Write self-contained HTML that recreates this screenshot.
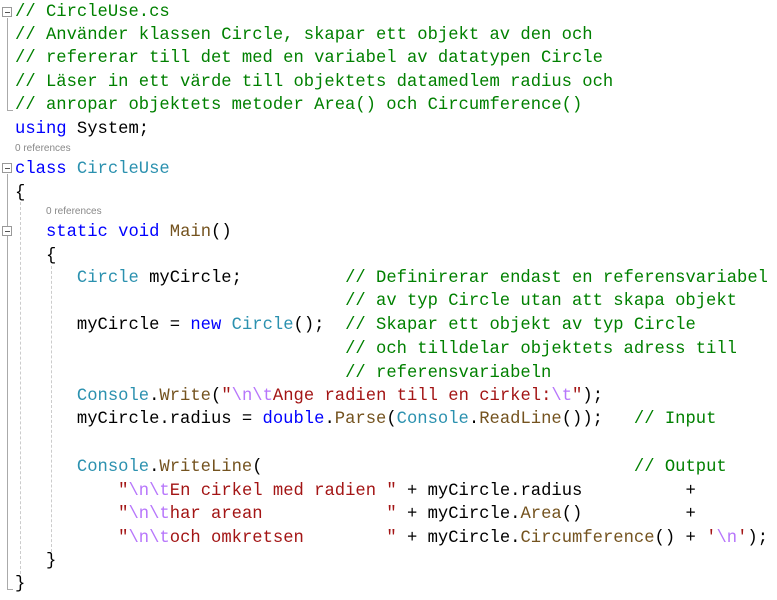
<!DOCTYPE html>
<html><head><meta charset="utf-8"><style>
html,body{margin:0;padding:0;background:#fff;width:777px;height:600px;overflow:hidden;position:relative}
.l{position:absolute;left:15px;height:23px;line-height:23px;font-family:"Liberation Mono",monospace;font-size:17.2px;white-space:pre;color:#000}
.r{position:absolute;font-family:"Liberation Sans",sans-serif;font-size:10px;color:#888;line-height:12px}
.c{color:#008000}.k{color:#0000ff}.t{color:#2b91af}.s{color:#a31515}.e{color:#b776fb}.m{color:#74531f}
.box{position:absolute;left:2px;width:8px;height:8px;border:1px solid #999;background:#fff}
.box:after{content:"";position:absolute;left:2px;top:4px;width:5px;height:1px;background:#555}
.vl{position:absolute;left:7px;width:1px;background:#aaa}
.dg{position:absolute;width:0;border-left:1px dashed #ccc}
</style></head><body>
<div class="vl" style="top:18px;height:93px"></div>
<div class="vl" style="top:110px;height:1px;width:6px"></div>
<div class="vl" style="top:174px;height:416px"></div>
<div class="vl" style="top:589px;height:1px;width:6px"></div>
<div class="dg" style="left:20px;top:202px;height:372px"></div>
<div class="dg" style="left:51px;top:266px;height:286px"></div>
<div class="box" style="top:7px"></div>
<div class="box" style="top:163px"></div>
<div class="box" style="top:226px"></div>

<div class="l c" style="top:1px">// CircleUse.cs</div>
<div class="l c" style="top:24px">// Använder klassen Circle, skapar ett objekt av den och</div>
<div class="l c" style="top:47px">// refererar till det med en variabel av datatypen Circle</div>
<div class="l c" style="top:71px">// Läser in ett värde till objektets datamedlem radius och</div>
<div class="l c" style="top:94px">// anropar objektets metoder Area() och Circumference()</div>
<div class="l" style="top:118px"><span class="k">using</span> System;</div>
<div class="r" style="left:15px;top:143px">0 references</div>
<div class="l" style="top:158px"><span class="k">class</span> <span class="t">CircleUse</span></div>
<div class="l" style="top:182px">{</div>
<div class="r" style="left:46px;top:206px">0 references</div>
<div class="l" style="top:221px">   <span class="k">static</span> <span class="k">void</span> <span class="m">Main</span>()</div>
<div class="l" style="top:245px">   {</div>
<div class="l" style="top:267px">      <span class="t">Circle</span> myCircle;          <span class="c">// Definirerar endast en referensvariabel</span></div>
<div class="l" style="top:290px">                                <span class="c">// av typ Circle utan att skapa objekt</span></div>
<div class="l" style="top:314px">      myCircle = <span class="k">new</span> <span class="t">Circle</span>();  <span class="c">// Skapar ett objekt av typ Circle</span></div>
<div class="l" style="top:338px">                                <span class="c">// och tilldelar objektets adress till</span></div>
<div class="l" style="top:362px">                                <span class="c">// referensvariabeln</span></div>
<div class="l" style="top:385px">      <span class="t">Console</span>.<span class="m">Write</span>(<span class="s">"</span><span class="e">\n\t</span><span class="s">Ange radien till en cirkel:</span><span class="e">\t</span><span class="s">"</span>);</div>
<div class="l" style="top:408px">      myCircle.radius = <span class="k">double</span>.<span class="m">Parse</span>(<span class="t">Console</span>.<span class="m">ReadLine</span>());   <span class="c">// Input</span></div>
<div class="l" style="top:456px">      <span class="t">Console</span>.<span class="m">WriteLine</span>(                                    <span class="c">// Output</span></div>
<div class="l" style="top:480px">          <span class="s">"</span><span class="e">\n\t</span><span class="s">En cirkel med radien "</span> + myCircle.radius          +</div>
<div class="l" style="top:503px">          <span class="s">"</span><span class="e">\n\t</span><span class="s">har arean            "</span> + myCircle.<span class="m">Area</span>()          +</div>
<div class="l" style="top:527px">          <span class="s">"</span><span class="e">\n\t</span><span class="s">och omkretsen        "</span> + myCircle.<span class="m">Circumference</span>() + <span class="s">'</span><span class="e">\n</span><span class="s">'</span>);</div>
<div class="l" style="top:550px">   }</div>
<div class="l" style="top:573px">}</div>
</body></html>
